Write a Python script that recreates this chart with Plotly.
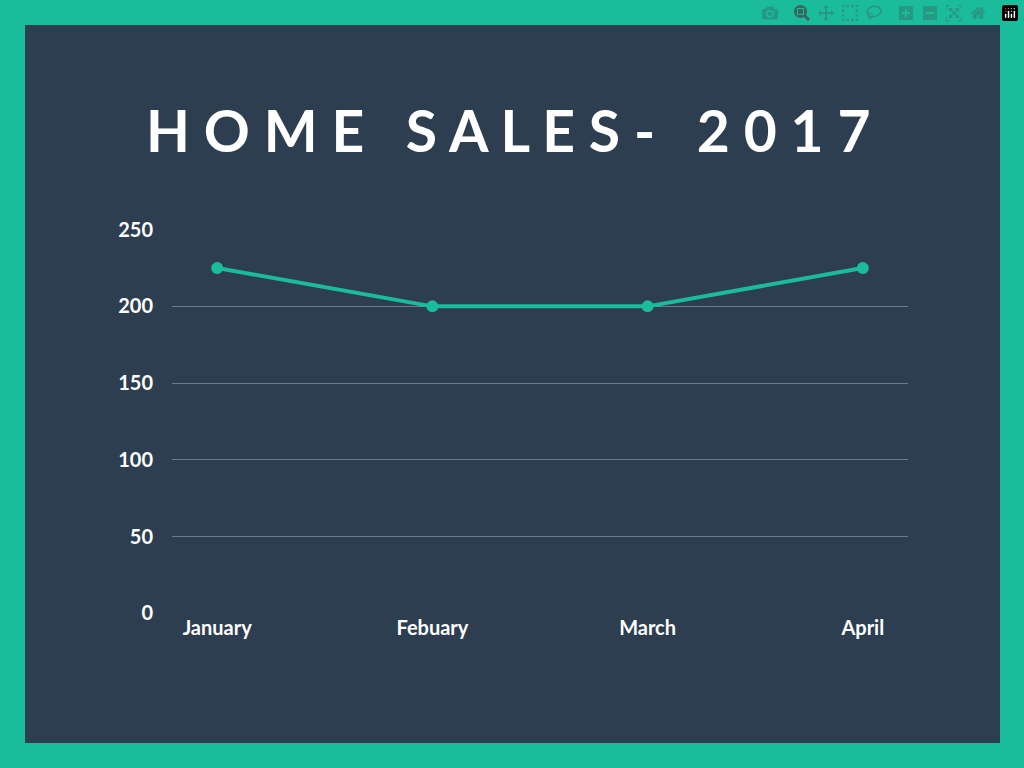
import plotly.graph_objs as go

months = ['January', 'Febuary', 'March', 'April']
sales = [225, 200, 200, 225]
y_ticks = [0, 50, 100, 150, 200, 250]

teal = '#1ABC9C'
navy = '#2C3E50'

trace = go.Scatter(
    x=list(range(len(months))),
    y=sales,
    mode='lines+markers',
    line=dict(color=teal, width=4),
    marker=dict(color=teal, size=12),
)

layout = go.Layout(
    width=1024, height=768,
    paper_bgcolor=teal,
    plot_bgcolor=navy,
    margin=dict(l=172, r=116, t=229, b=154),
    showlegend=False,
    font=dict(family='Lato', color='white', size=20, weight='bold'),
    xaxis=dict(
        range=[-0.21, 3.21],
        tickvals=list(range(len(months))),
        ticktext=months,
        showgrid=False, zeroline=False, showline=False,
        ticklen=0, ticks='',
    ),
    yaxis=dict(
        range=[-0.4, 250.4],
        tickvals=y_ticks,
        gridcolor='#6B7C8C', gridwidth=1,
        zeroline=False, showline=False,
        ticks='outside', ticklen=14, tickcolor='rgba(0,0,0,0)',
    ),
    shapes=[dict(
        type='rect', xref='paper', yref='paper', layer='below',
        x0=-0.1997, x1=1.125, y0=-0.335, y1=1.530,
        fillcolor=navy, line=dict(width=0),
    )],
    annotations=[dict(
        text='H O M E   S A L E S -   2 0 1 7',
        xref='paper', yref='paper', x=0.457, y=1.257,
        showarrow=False, xanchor='center', yanchor='middle',
        font=dict(family='Lato', size=57, color='white', weight='bold'),
    )],
)

fig = go.Figure(data=trace, layout=layout)
fig.write_html('out.html', post_script="document.body.style.margin='0';")
